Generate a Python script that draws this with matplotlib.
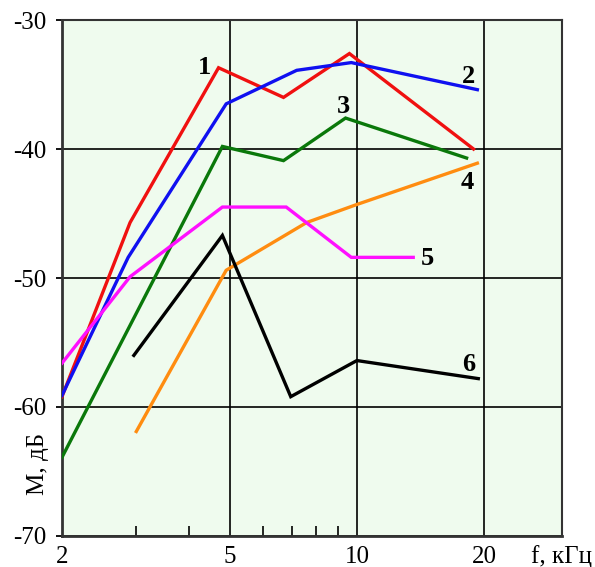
import matplotlib.pyplot as plt
from matplotlib.ticker import FixedLocator, NullFormatter

# частоты (кГц) и уровни (дБ) для кривых 1..6
f1 = [2.0, 2.9, 4.7, 6.7, 9.6, 18.9]
m1 = [-59.2, -45.7, -33.7, -36.0, -32.6, -40.0]

f2 = [2.0, 2.87, 4.9, 7.2, 9.7, 19.3]
m2 = [-59.1, -48.4, -36.5, -33.9, -33.3, -35.4]

f3 = [2.0, 4.8, 6.7, 9.4, 18.2]
m3 = [-63.9, -39.8, -40.9, -37.6, -40.7]

f4 = [3.0, 4.9, 7.6, 10.0, 19.3]
m4 = [-61.9, -49.4, -45.7, -44.3, -41.1]

f5 = [2.0, 2.9, 4.8, 6.8, 9.7, 13.6]
m5 = [-56.6, -49.9, -44.5, -44.5, -48.4, -48.4]

f6 = [2.96, 4.8, 6.97, 10.0, 19.4]
m6 = [-56.0, -46.7, -59.2, -56.4, -57.8]

curves = [(f1, m1, '#f01010'), (f2, m2, '#1010f0'), (f3, m3, '#0a780a'),
          (f4, m4, '#ff8c10'), (f5, m5, '#ff10ff'), (f6, m6, '#000000')]

# подписи кривых: (номер, f, M)
labels = [('1', 4.36, -33.7), ('2', 18.4, -34.4), ('3', 9.3, -36.7),
          ('4', 18.3, -42.6), ('5', 14.7, -48.5), ('6', 18.4, -56.7)]

x_ticks = [2, 5, 10, 20]
x_minor = [3, 4, 6, 7, 8, 9]
y_ticks = [-70, -60, -50, -40, -30]

plt.rcParams['font.family'] = ['Liberation Serif', 'DejaVu Serif']

fig = plt.figure(figsize=(5.95, 5.67), dpi=100)
ax = fig.add_axes([0.1042, 0.0547, 0.840, 0.910])
ax.set_facecolor('#effbee')

for f, m, c in curves:
    ax.plot(f, m, color=c, lw=2.4, solid_joinstyle='miter', zorder=3)

for txt, x, y in labels:
    ax.text(x, y, txt, fontsize=19, fontweight='bold', ha='center', va='center', zorder=4)

ax.set_xscale('log')
ax.set_xlim(2, 30.6)
ax.set_ylim(-70, -30)

ax.xaxis.set_major_locator(FixedLocator(x_ticks))
ax.xaxis.set_minor_locator(FixedLocator(x_minor))
ax.xaxis.set_minor_formatter(NullFormatter())
ax.set_xticklabels([str(t) for t in x_ticks])
ax.set_yticks(y_ticks)
ax.set_yticklabels([str(t) for t in y_ticks])

ax.tick_params(axis='x', which='major', length=0, labelsize=18, pad=7)
ax.tick_params(axis='x', which='minor', direction='in', length=7, width=1.2)
ax.tick_params(axis='y', which='major', direction='out', length=4, width=1.3, labelsize=18, pad=7)

ax.grid(True, which='major', color='black', lw=1.2, zorder=1)
ax.set_axisbelow(True)
for s in ax.spines.values():
    s.set_color('#333333')
    s.set_linewidth(1.5)
ax.spines['left'].set_linewidth(2)
ax.spines['bottom'].set_linewidth(2)

fig.text(0.064, 0.182, 'M, дБ', rotation=90, fontsize=18, ha='center', va='center')
fig.text(0.943, 0.018, 'f, кГц', fontsize=18, ha='center', va='center')

fig.savefig('out.png', dpi=100)
